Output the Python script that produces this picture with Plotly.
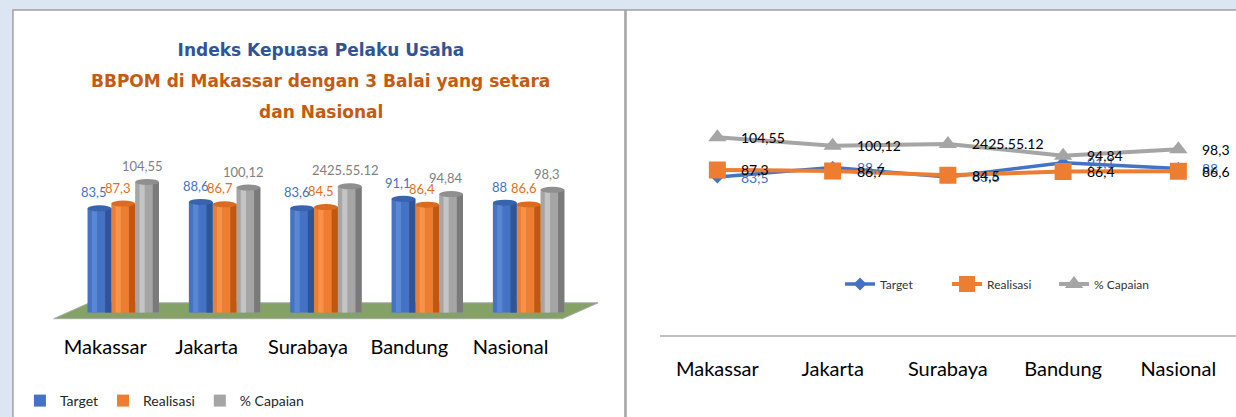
import plotly.graph_objects as go

# ---------------- data ----------------
categories = ["Makassar", "Jakarta", "Surabaya", "Bandung", "Nasional"]
series_names = ["Target", "Realisasi", "% Capaian"]
target = [83.5, 88.6, 83.6, 91.1, 88.0]
realisasi = [87.3, 86.7, 84.5, 86.4, 86.6]
capaian = [104.55, 100.12, 101.08, 94.84, 98.3]
target_labels = ["83,5", "88,6", "83,6", "91,1", "88"]
realisasi_labels = ["87,3", "86,7", "84,5", "86,4", "86,6"]
capaian_labels = ["104,55", "100,12", "2425.55.12", "94,84", "98,3"]
title_line1 = "Indeks Kepuasa Pelaku Usaha"
title_line2 = "BBPOM di Makassar dengan 3 Balai yang setara"
title_line3 = "dan Nasional"

# ---------------- styling ----------------
W, H = 1236, 417
def px(x):
    return x / W
def py(y):
    return 1 - y / H

base_cols = ["#4472c4", "#ed7d31", "#a5a5a5"]
dark_cols = ["#2f5597", "#c0590f", "#7a7a7a"]
light_cols = ["#5b86d4", "#f7924a", "#c4c4c4"]
top_cols = ["#3a63ad", "#d96c22", "#8f8f8f"]
label_cols = ["#4472c4", "#e2701f", "#808080"]
cat_font = dict(family="Lato", size=20, color="#000000")

values = [target, realisasi, capaian]
bar_labels = [target_labels, realisasi_labels, capaian_labels]

fig = go.Figure()

bw = 0.235
offs = [-1.5 * bw, -0.5 * bw, 0.5 * bw]

# main bars (left chart)
for s in range(3):
    fig.add_trace(go.Bar(
        x=categories, y=values[s], name=series_names[s],
        offset=offs[s], width=bw,
        marker=dict(color=base_cols[s], line=dict(width=0)),
        legend="legend", xaxis="x", yaxis="y", hoverinfo="skip",
    ))
# cylinder shading strips
for s in range(3):
    fig.add_trace(go.Bar(
        x=categories, y=values[s], showlegend=False,
        offset=offs[s] + bw * 0.18, width=bw * 0.22,
        marker=dict(color=light_cols[s], line=dict(width=0)),
        xaxis="x", yaxis="y", hoverinfo="skip",
    ))
    fig.add_trace(go.Bar(
        x=categories, y=values[s], showlegend=False,
        offset=offs[s] + bw * 0.74, width=bw * 0.26,
        marker=dict(color=dark_cols[s], line=dict(width=0)),
        xaxis="x", yaxis="y", hoverinfo="skip",
    ))

# line chart (right)
line_specs = [
    dict(symbol="diamond", size=10, width=3.5),
    dict(symbol="square", size=17, width=4),
    dict(symbol="triangle-up", size=16, width=4),
]
for s in range(3):
    fig.add_trace(go.Scatter(
        x=categories, y=values[s], name=series_names[s], mode="lines+markers",
        line=dict(color=base_cols[s], width=line_specs[s]["width"]),
        marker=dict(symbol=line_specs[s]["symbol"], size=line_specs[s]["size"],
                    color=base_cols[s]),
        legend="legend2", xaxis="x2", yaxis="y2", hoverinfo="skip",
    ))

annotations = []
shapes = []

# panes
shapes.append(dict(type="rect", xref="paper", yref="paper", layer="below",
                   x0=px(5), x1=px(621), y0=-0.2, y1=py(10),
                   fillcolor="white", line=dict(color="#a0a0a0", width=1.5)))
shapes.append(dict(type="rect", xref="paper", yref="paper", layer="below",
                   x0=px(622), x1=1.2, y0=-0.2, y1=py(10),
                   fillcolor="white", line=dict(color="#a0a0a0", width=1.5)))
# 3D floor
floor = [(46, 321), (558, 321), (594, 305), (82, 305)]
path = "M " + " L ".join(f"{px(a):.5f},{py(b):.5f}" for a, b in floor) + " Z"
shapes.append(dict(type="path", xref="paper", yref="paper", layer="below",
                   path=path, fillcolor="#84a266",
                   line=dict(color="#a8a8a8", width=1)))

# cylinder tops
dy = 2.4
for s in range(3):
    for i, v in enumerate(values[s]):
        shapes.append(dict(type="circle", xref="x", yref="y", layer="above",
                           x0=i + offs[s], x1=i + offs[s] + bw,
                           y0=v - dy, y1=v + dy,
                           fillcolor=top_cols[s], line=dict(width=0)))

# bar data labels
for s in range(3):
    for i, v in enumerate(values[s]):
        annotations.append(dict(
            xref="x", yref="y", x=i + offs[s] + bw / 2, y=v,
            xshift=-5, yshift=16, yanchor="middle", xanchor="center",
            text=bar_labels[s][i], showarrow=False,
            font=dict(family="Lato", size=13, color=label_cols[s])))

# line data labels
line_label_cols = ["#4472c4", "#000000", "#000000"]
for s in range(3):
    for i, v in enumerate(values[s]):
        annotations.append(dict(
            xref="x2", yref="y2", x=i, y=v,
            xshift=22, yanchor="middle", xanchor="left",
            text=bar_labels[s][i], showarrow=False,
            font=dict(family="Lato", size=14, color=line_label_cols[s])))

# title lines 2-3
for txt, yy in [(title_line2, 82), (title_line3, 113)]:
    annotations.append(dict(
        xref="paper", yref="paper", x=px(315), y=py(yy),
        xanchor="center", yanchor="middle", text=f"<b>{txt}</b>",
        showarrow=False,
        font=dict(family="DejaVu Sans", size=17, color="#c55a11")))

fig.update_layout(
    width=W, height=H,
    margin=dict(l=0, r=0, t=0, b=0),
    paper_bgcolor="#dce6f2",
    plot_bgcolor="rgba(0,0,0,0)",
    barmode="overlay",
    title=dict(text=f"<b>{title_line1}</b>", x=px(315), xanchor="center",
               y=py(50), yanchor="middle", xref="paper", yref="paper",
               font=dict(family="DejaVu Sans", size=17, color="#2f5597")),
    xaxis=dict(domain=[px(65), px(575)], range=[-0.5, 4.5], type="category",
               anchor="y", showline=False, showgrid=False, zeroline=False,
               ticks="", tickfont=cat_font, ticklabelshift=-18,
               ticklabelstandoff=20, fixedrange=True),
    yaxis=dict(domain=[py(315), py(155)], range=[0, 127], visible=False,
               anchor="x", fixedrange=True),
    xaxis2=dict(domain=[px(656), 1.0], range=[-0.5, 4.5], type="category",
                anchor="y2", showline=True, linecolor="#bfbfbf", linewidth=1.5,
                showgrid=False, zeroline=False, ticks="", tickfont=cat_font,
                ticklabelstandoff=16, fixedrange=True),
    yaxis2=dict(domain=[py(337), py(109)], range=[0, 120], visible=False,
                anchor="x2", fixedrange=True),
    legend=dict(orientation="h", x=px(12), y=py(404), xanchor="left",
                yanchor="middle", font=dict(family="Lato", size=14, color="#262626"),
                bgcolor="rgba(0,0,0,0)", itemwidth=30),
    legend2=dict(orientation="h", x=px(999), y=py(286), xanchor="center",
                 yanchor="middle", font=dict(family="Lato", size=12, color="#333333"),
                 bgcolor="rgba(0,0,0,0)", itemwidth=30,
                 entrywidth=62, entrywidthmode="pixels"),
    shapes=shapes,
    annotations=annotations,
    showlegend=True,
)

fig.write_html(
    "out.html",
    config={"displayModeBar": False},
    post_script="document.body.style.margin='0';document.body.style.overflow='hidden';",
)
